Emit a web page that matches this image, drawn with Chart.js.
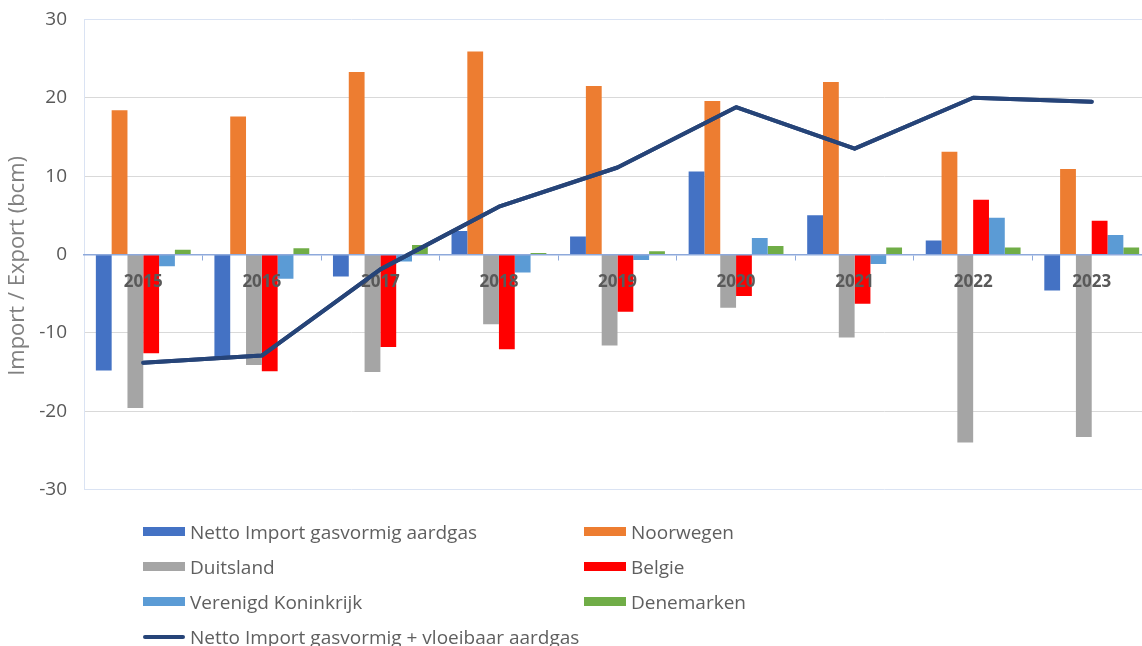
<!DOCTYPE html>
<html>
<head>
<meta charset="utf-8">
<script src="https://cdn.jsdelivr.net/npm/chart.js@4.4.1/dist/chart.umd.min.js"></script>
<style>
  html, body { margin: 0; padding: 0; background: #fff; overflow: hidden; }
  #wrap { position: relative; width: 1142px; height: 646px; overflow: hidden; }
  #chart { position: absolute; left: 0; top: -9px; }
  #legend {
    position: absolute; left: 143px; top: 514px;
    display: grid; grid-template-columns: 441px 300px; grid-auto-rows: 35px;
    font-family: "Open Sans", sans-serif; font-size: 19px; color: #5f5f5f;
  }
  .item { display: flex; align-items: center; white-space: nowrap; }
  .sw { display: inline-block; width: 42px; height: 9px; margin-right: 5px; }
  .sw.line { height: 4px; border-radius: 2px; }
</style>
</head>
<body>
<div id="wrap">
  <canvas id="chart" width="1152" height="527"></canvas>
  <div id="legend"></div>
</div>
<script>
// Annual gas flows (bcm): positive = import, negative = export
const years = ['2015', '2016', '2017', '2018', '2019', '2020', '2021', '2022', '2023'];
const nettoGas   = [-14.8, -13.1, -2.8, 3.0, 2.3, 10.6, 5.0, 1.8, -4.6];
const noorwegen  = [18.4, 17.6, 23.3, 25.9, 21.5, 19.6, 22.0, 13.1, 10.9];
const duitsland  = [-19.6, -14.1, -15.0, -8.9, -11.6, -6.8, -10.6, -24.0, -23.3];
const belgie     = [-12.6, -14.9, -11.8, -12.1, -7.3, -5.3, -6.3, 7.0, 4.3];
const verenigdK  = [-1.5, -3.1, -0.9, -2.3, -0.7, 2.1, -1.2, 4.7, 2.5];
const denemarken = [0.6, 0.8, 1.2, 0.2, 0.4, 1.1, 0.9, 0.9, 0.9];
const nettoTotaal = [-13.8, -12.9, -1.9, 6.1, 11.1, 18.8, 13.5, 20.0, 19.5];
const yTicks = [-30, -20, -10, 0, 10, 20, 30];

const FONT = '"Open Sans", sans-serif';

const barSet = (label, data, color) => ({
  type: 'bar', label, data, backgroundColor: color, borderWidth: 0, order: 1
});

const datasets = [
  barSet('Netto Import gasvormig aardgas', nettoGas, '#4472C4'),
  barSet('Noorwegen', noorwegen, '#ED7D31'),
  barSet('Duitsland', duitsland, '#A5A5A5'),
  barSet('Belgie', belgie, '#FF0000'),
  barSet('Verenigd Koninkrijk', verenigdK, '#5B9BD5'),
  barSet('Denemarken', denemarken, '#70AD47'),
  {
    type: 'line', label: 'Netto Import gasvormig + vloeibaar aardgas', data: nettoTotaal,
    borderColor: '#264478', backgroundColor: '#264478', borderWidth: 4,
    pointRadius: 0, tension: 0, borderCapStyle: 'round', borderJoinStyle: 'round', order: 0
  }
];

// Redraw the line series after the axis labels so it sits on top of them
const lineOnTop = {
  id: 'lineOnTop',
  afterDraw(chart) {
    chart.data.datasets.forEach((ds, i) => {
      if (ds.type !== 'line') return;
      const area = chart.chartArea;
      const ctx = chart.ctx;
      ctx.save();
      ctx.beginPath();
      ctx.rect(area.left, area.top, area.right - area.left, area.bottom - area.top);
      ctx.clip();
      chart.getDatasetMeta(i).controller.draw();
      ctx.restore();
    });
  }
};

const chart = new Chart(document.getElementById('chart'), {
  data: { labels: years, datasets },
  plugins: [lineOnTop],
  options: {
    responsive: false,
    animation: false,
    layout: { padding: { top: 8, right: 1, bottom: 2, left: 0 } },
    datasets: { bar: { categoryPercentage: 0.8, barPercentage: 1.0 } },
    plugins: { legend: { display: false }, tooltip: { enabled: false } },
    scales: {
      x: {
        position: { y: 0 },
        offset: true,
        border: { display: true, color: '#8EA9DB', width: 1.5, z: 1 },
        grid: { offset: true, drawOnChartArea: false, drawTicks: true, tickLength: 5, tickColor: '#8EA9DB' },
        ticks: {
          z: 1,
          padding: 12,
          color: '#595959',
          font: { family: FONT, size: 17, weight: 'bold' },
          maxRotation: 0
        }
      },
      y: {
        min: -30, max: 30,
        afterFit: scale => { scale.width = 84; },
        afterBuildTicks: scale => { scale.ticks = yTicks.map(v => ({ value: v })); },
        border: { display: true, color: '#DAE3F3', width: 1 },
        grid: {
          drawTicks: false,
          color: ctx => (ctx.tick && Math.abs(ctx.tick.value) === 30) ? '#DAE3F3' : '#D9D9D9',
          lineWidth: 1
        },
        ticks: {
          padding: 17,
          color: '#595959',
          font: { family: FONT, size: 19 }
        },
        title: {
          display: true,
          text: 'Import / Export (bcm)    ',
          color: '#808080',
          font: { family: FONT, size: 22 },
          padding: { top: 5, bottom: 0 }
        }
      }
    }
  }
});

// Two-column legend built from the chart's datasets
const legend = document.getElementById('legend');
chart.data.datasets.forEach(ds => {
  const item = document.createElement('div');
  item.className = 'item';
  const sw = document.createElement('span');
  sw.className = 'sw' + (ds.type === 'line' ? ' line' : '');
  sw.style.background = ds.type === 'line' ? ds.borderColor : ds.backgroundColor;
  const txt = document.createElement('span');
  txt.textContent = ds.label;
  item.appendChild(sw);
  item.appendChild(txt);
  legend.appendChild(item);
});
</script>
</body>
</html>
